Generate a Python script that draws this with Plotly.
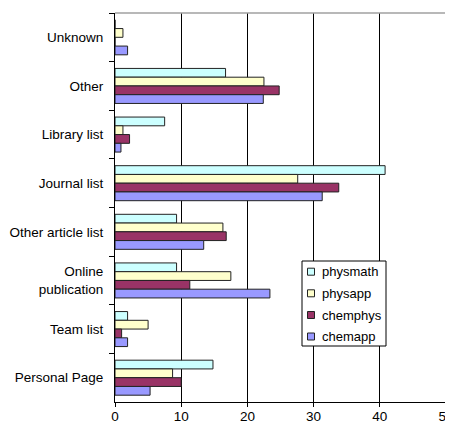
import plotly.graph_objects as go

categories = ["Unknown", "Other", "Library list", "Journal list", "Other article list",
              "Online<br>publication", "Team list", "Personal Page"]
physmath = [0, 16.7, 7.5, 40.8, 9.3, 9.3, 1.9, 14.8]
physapp = [1.2, 22.5, 1.2, 27.6, 16.3, 17.5, 5.0, 8.7]
chemphys = [0, 24.8, 2.2, 33.8, 16.8, 11.3, 1.0, 10.0]
chemapp = [1.9, 22.4, 0.9, 31.3, 13.4, 23.4, 1.9, 5.3]
x_ticks = [0, 10, 20, 30, 40, 50]

series_names = ["physmath", "physapp", "chemphys", "chemapp"]
series_values = [physmath, physapp, chemphys, chemapp]
series_colors = ["#CCFFFF", "#FFFFCC", "#993366", "#9999FF"]

# page offset of the figure (default body margin) is 8px
OFF = 8
W, H = 453, 423
# desired plot area in page pixels: x 115..446, y 13..402
ML = 115 - OFF
MT = 13 - OFF
MR = W - (446 - OFF)
MB = H - (402 - OFF)
PW, PH = W - ML - MR, H - MT - MB


def px_x(x):  # page pixel -> paper
    return (x - OFF - ML) / PW


def px_y(y):
    return (H - MB - (y - OFF)) / PH


fig = go.Figure()
for name, vals, col in zip(series_names, series_values, series_colors):
    fig.add_trace(go.Bar(
        y=categories, x=vals, name=name, orientation="h",
        marker=dict(color=col, line=dict(color="#222222", width=1)),
        showlegend=False,
    ))

font_family = "Liberation Sans, Arial, sans-serif"
fig.update_layout(
    width=W, height=H,
    margin=dict(l=ML, r=MR, t=MT, b=MB),
    paper_bgcolor="white", plot_bgcolor="white",
    barmode="group", bargap=0.28, bargroupgap=0,
    font=dict(family=font_family, size=13, color="black"),
    xaxis=dict(range=[0, 50], tickvals=x_ticks, showgrid=True, gridcolor="black",
               gridwidth=1, showline=True, linecolor="black", linewidth=1,
               ticks="outside", ticklen=4, tickcolor="black", zeroline=False,
               tickfont=dict(size=13.5), ticklabelstandoff=-2,
               automargin=False, ticklabeloverflow="allow"),
    yaxis=dict(autorange="reversed", type="category", showgrid=False,
               showline=True, linecolor="black", linewidth=1,
               ticks="outside", ticklen=5, tickcolor="black", tickson="boundaries",
               tickfont=dict(size=13.5), ticklabelstandoff=8, automargin=False),
)
# grey frame on top and right
fig.add_shape(type="line", xref="paper", yref="paper", x0=0, x1=1, y0=1, y1=1,
              line=dict(color="#A0A0A0", width=1.5))
fig.add_shape(type="line", xref="paper", yref="paper", x0=1, x1=1, y0=0, y1=1,
              line=dict(color="#A0A0A0", width=1.5))

# legend box (Excel style)
fig.add_shape(type="rect", xref="paper", yref="paper",
              x0=px_x(302), x1=px_x(386), y0=px_y(346), y1=px_y(261),
              line=dict(color="black", width=1), fillcolor="white", layer="above")
item_y = [271.7, 293.3, 315, 336.5]
for name, col, yc in zip(series_names, series_colors, item_y):
    fig.add_shape(type="rect", xref="paper", yref="paper",
                  x0=px_x(307.5), x1=px_x(314.5), y0=px_y(yc + 3.5), y1=px_y(yc - 3.5),
                  line=dict(color="#222222", width=1), fillcolor=col, layer="above")
    fig.add_annotation(x=px_x(320), y=px_y(yc), xref="paper", yref="paper",
                       text=name, showarrow=False, xanchor="left", yanchor="middle",
                       font=dict(size=13, family=font_family, color="black"))

fig.write_html("out.html")
